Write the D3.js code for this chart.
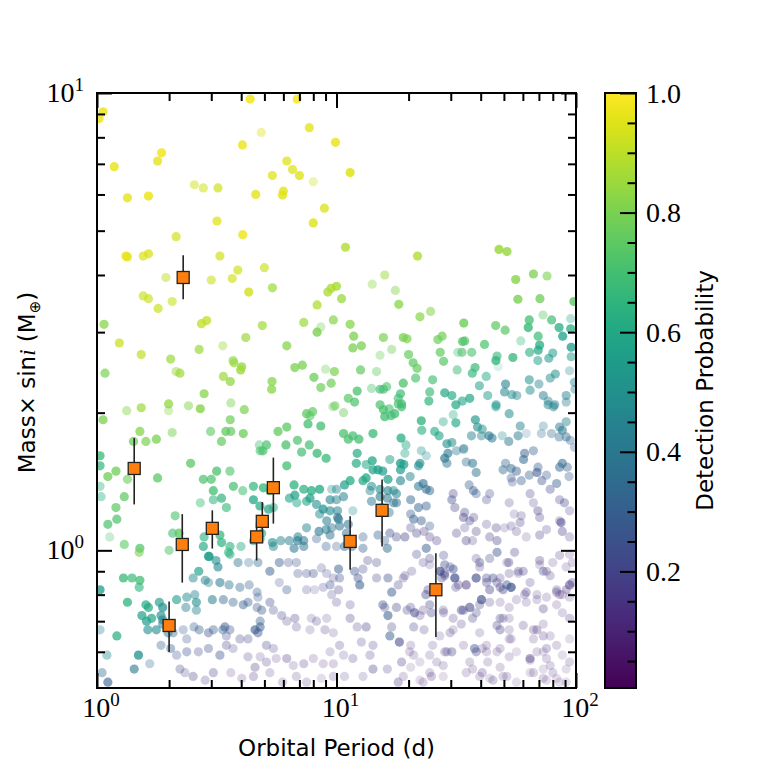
<!DOCTYPE html>
<html><head><meta charset="utf-8">
<script src="https://cdn.jsdelivr.net/npm/d3@7"></script>
<style>body{margin:0;background:#fff}</style>
</head><body>
<svg id="c" width="773" height="773"></svg>
<script>
// ---------------- data ----------------
const periodRange = [1, 100];
const massRange = [0.5, 10];
const probRange = [0.005, 1.0];
const xMajor = [1, 10, 100];
const xMajorExp = ["0", "1", "2"];
const xMinor = [2,3,4,5,6,7,8,9,20,30,40,50,60,70,80,90];
const yMajor = [1, 10];
const yMajorExp = ["0", "1"];
const yMinor = [0.6,0.7,0.8,0.9,2,3,4,5,6,7,8,9];
const cbMajor = [0.2, 0.4, 0.6, 0.8, 1.0];
const cbLabels = ["0.2", "0.4", "0.6", "0.8", "1.0"];
const cbMinor = [0.05,0.1,0.15,0.25,0.3,0.35,0.45,0.5,0.55,0.65,0.7,0.75,0.85,0.9,0.95];

// simulated planets: [period (d), mass (M_earth), detection probability, opacity]
const samples = [
[1.06,9.1,.97,.85],[1.02,8.8,.97,.85],[1.18,6.9,.96,.8],[1.86,7.4,.98,.85],[1.79,7.1,.96,.8],[1.34,5.9,.96,.8],[1.64,5.95,.97,.85],[2.55,6.3,.93,.5],[2.78,6.2,.93,.55],[3.2,6.2,.93,.7],[4.36,9.7,.98,.85],[6.85,9.7,.98,.8],[4.85,8.2,.95,.4],[4.05,7.7,.97,.8],[7.7,8.4,.96,.8],[9.9,7.8,.97,.85],[6.2,7.1,.95,.75],[6.55,6.8,.95,.75],[7.0,6.6,.95,.8],[5.4,6.6,.95,.75],[8.0,6.4,.92,.35],[4.6,6.0,.96,.8],[6.0,6.1,.96,.8],[5.95,5.98,.95,.8],[8.9,5.6,.94,.75],[8.0,5.2,.95,.8],[3.17,5.25,.95,.75],[2.14,4.85,.93,.7],[4.06,4.9,.97,.8],[3.26,4.4,.93,.7],[1.32,4.4,.97,.8],[1.34,4.38,.96,.8],[1.56,4.4,.94,.7],[1.64,4.45,.94,.75],[1.94,3.95,.9,.5],[3.0,3.9,.92,.6],[3.67,3.93,.93,.65],[3.87,4.1,.93,.7],[5.0,4.15,.92,.65],[4.3,3.67,.93,.8],[5.4,3.75,.85,.7],[1.56,3.6,.92,.65],[1.64,3.55,.92,.65],[1.8,3.38,.92,.7],[2.06,3.5,.92,.6],[1.07,3.12,.82,.75],[1.24,2.84,.92,.75],[1.53,2.68,.9,.7],[2.03,2.62,.85,.7],[2.73,3.13,.9,.75],[2.87,3.18,.9,.75],[2.67,2.75,.85,.7],[3.35,2.8,.85,.4],[4.18,2.92,.85,.7],[4.9,3.1,.86,.7],[6.2,2.8,.82,.75],[7.3,3.15,.85,.7],[8.3,3.44,.88,.75],[8.3,3.0,.8,.8],[8.6,3.08,.8,.35],[9.7,3.19,.82,.7],[9.2,3.67,.87,.75],[9.5,3.74,.88,.8],[10.0,3.78,.87,.8],[10.5,3.55,.85,.75],[3.7,2.6,.82,.6],
[11.4,6.7,.95,.85],[10.9,4.6,.88,.8],[21.8,4.4,.88,.8],[47.7,4.55,.85,.85],[51.5,4.5,.84,.8],[15.9,4.0,.85,.5],[14.1,3.82,.83,.4],[17.6,3.7,.82,.45],[18.2,3.45,.82,.75],[11.4,3.12,.82,.75],[11.8,2.94,.8,.75],[11.7,2.77,.8,.75],[12.7,2.8,.8,.75],[15.7,2.92,.8,.7],[15.2,2.67,.78,.35],[17.0,2.75,.78,.4],[19.0,2.92,.8,.75],[19.7,2.9,.8,.7],[20.0,2.68,.77,.7],[20.9,2.57,.75,.7],[21.7,2.5,.76,.7],[22.3,3.24,.82,.7],[24.7,3.33,.82,.55],[26.5,2.89,.78,.7],[27.6,2.94,.78,.7],[27.1,2.71,.76,.7],[28.0,2.59,.74,.7],[34.0,3.14,.78,.8],[33.6,2.86,.73,.75],[34.3,2.87,.73,.7],[32.1,2.71,.7,.35],[33.4,2.71,.72,.6],[36.7,2.71,.72,.6],[41.5,2.82,.72,.7],[46.2,3.1,.75,.7],[50.6,3.03,.74,.7],[56,3.91,.82,.8],[57.2,3.54,.8,.8],[66.4,4.02,.8,.75],[75.7,3.98,.8,.6],[70.7,3.55,.78,.75],[72.8,3.27,.75,.4],[63.8,3.19,.7,.75],[63.2,3.07,.68,.8],[79.1,3.19,.7,.7],[85,3.07,.62,.75],[88,2.94,.58,.75],[69.5,2.94,.68,.7],[70.5,2.81,.62,.75],[69.5,2.74,.6,.7],[64,2.71,.62,.6],[58.8,2.87,.68,.35],[54.5,2.64,.66,.75],[46.3,2.6,.65,.75],[46.8,2.66,.66,.6],[47.3,2.52,.6,.15],[69.3,2.6,.55,.5],[77,2.63,.52,.55],[80,2.7,.55,.55],[98,3.5,.75,.8],[95,3.21,.55,.3],[95,3.05,.62,.75],[95.5,2.78,.55,.75],[95.5,2.65,.55,.5],[94,2.47,.45,.3],[9.8,2.46,.8,.7],[9.5,2.32,.78,.7],[12.6,2.48,.76,.7],[14.7,2.46,.75,.4],[12.2,2.23,.72,.75],[11.2,2.15,.74,.7],[11.9,2.11,.72,.7],[14.0,2.26,.72,.4],[15.2,2.25,.7,.65],[15.7,2.25,.7,.65],[16.2,2.28,.72,.6],[19.0,2.32,.72,.75],[18.5,2.2,.7,.7],[18.1,2.15,.68,.6],[18.7,2.09,.68,.7],[21.4,2.38,.72,.65],[25.2,2.36,.7,.65],[24.5,2.22,.68,.65],[24.3,2.12,.66,.7],[28.3,2.21,.6,.7],[30.3,2.18,.6,.65],[31.5,2.08,.6,.7],[31.9,2.48,.68,.5],[36.9,2.44,.65,.65],[37.9,2.51,.68,.7],[36,2.15,.6,.7],[33.5,2.12,.58,.6],[39.5,2.29,.58,.55],[42.2,2.4,.6,.5],[42.8,2.18,.55,.5],[46.4,2.08,.5,.55],[50.8,2.31,.45,.6],[50.3,2.22,.45,.55],[54,2.19,.48,.5],[56.6,2.18,.45,.45],[63.8,2.36,.5,.55],[64.3,2.24,.48,.5],[70,2.31,.45,.45],[73,2.18,.42,.5],[76.5,2.12,.45,.45],[81.5,2.08,.42,.5],[78,2.38,.5,.5],[82,2.43,.5,.55],[91,2.18,.45,.5],[91,2.11,.42,.4],[98.5,2.33,.45,.45],[99,2.25,.42,.4],
[1.08,2.44,.8,.7],[2.14,2.46,.85,.5],[2.22,2.44,.85,.7],[3.73,2.57,.85,.7],[4.02,2.52,.84,.75],[3.98,2.48,.86,.8],[3.37,2.4,.85,.7],[3.6,2.34,.84,.75],[5.38,2.34,.82,.75],[5.36,2.25,.82,.75],[6.7,2.51,.8,.75],[7.2,2.54,.8,.75],[8.05,2.39,.78,.75],[8.6,2.27,.78,.7],[9.0,2.49,.78,.35],[2.8,2.2,.82,.75],[1.33,2.02,.82,.45],[1.53,2.05,.85,.7],[1.99,2.09,.84,.75],[1.99,2.02,.82,.35],[2.41,2.07,.82,.5],[2.7,2.04,.82,.8],[3.62,2.1,.8,.45],[4.12,2.03,.8,.7],[3.6,1.93,.78,.7],[7.5,1.99,.76,.75],[7.95,2.01,.76,.7],[9.65,2.06,.76,.35],[1.06,1.93,.8,.75],
[7.75,1.97,.74,.6],[7.6,1.89,.7,.75],[8.6,1.87,.7,.75],[1.51,1.82,.82,.75],[2.06,1.81,.8,.5],[1.77,1.75,.8,.75],[1.6,1.73,.8,.7],[1.42,1.73,.78,.75],[2.98,1.82,.75,.6],[3.45,1.82,.76,.75],[3.62,1.82,.76,.7],[4.08,1.8,.78,.75],[5.7,1.82,.76,.75],[6.2,1.86,.75,.75],[3.31,1.73,.76,.7],[4.76,1.7,.7,.4],[5.1,1.7,.72,.7],[4.93,1.65,.72,.7],[4.8,1.65,.72,.6],[6.15,1.7,.72,.75],[6.87,1.74,.72,.7],[7.15,1.64,.7,.7],[7.7,1.7,.7,.7],[8.3,1.63,.68,.75],[9.05,1.59,.68,.75],[1.03,1.61,.68,.75],[1.03,1.53,.66,.7],[2.46,1.55,.75,.75],[1.11,1.45,.78,.75],[1.2,1.49,.78,.75],[1.34,1.43,.78,.6],[1.79,1.44,.75,.75],[2.78,1.43,.72,.7],[3.0,1.43,.72,.7],[3.16,1.49,.72,.75],[3.59,1.49,.72,.6],[3.71,1.38,.7,.7],[4.06,1.35,.7,.55],[4.5,1.38,.66,.7],[4.95,1.37,.66,.75],[5.28,1.35,.68,.7],[6.2,1.53,.7,.75],[6.65,1.39,.65,.75],[7.3,1.36,.63,.7],[7.86,1.35,.62,.75],[8.5,1.36,.6,.75],[9.55,1.36,.55,.35],[1.03,1.38,.65,.4],[1.04,1.31,.62,.4],[1.3,1.31,.75,.7],[1.2,1.24,.75,.7],[1.21,1.17,.72,.7],[3.06,1.35,.7,.75],[3.31,1.3,.66,.7],[3.06,1.29,.65,.55],[2.7,1.27,.7,.45],[3.47,1.24,.66,.6],[4.5,1.29,.6,.75],[4.79,1.25,.6,.7],[5.2,1.23,.58,.7],[5.45,1.24,.62,.5],[6.36,1.3,.58,.6],[6.7,1.32,.55,.7],[6.83,1.27,.6,.5],[7.5,1.28,.6,.6],[7.75,1.3,.55,.7],[8.25,1.26,.5,.6],[8.8,1.23,.5,.7],[9.4,1.22,.48,.6],[10.1,1.22,.45,.55],[8.5,1.2,.48,.5],[1.11,1.14,.72,.7],[1.13,1.07,.72,.3],[1.3,1.03,.75,.6],[1.51,1.01,.72,.7],[1.5,0.99,.8,.6],[2.12,1.19,.72,.6],[2.07,1.09,.7,.6],[2.0,1.0,.72,.5],[2.2,1.09,.75,.75],[2.78,1.02,.6,.65],[2.8,1.07,.62,.6],[2.92,0.97,.58,.7],[3.26,1.08,.65,.7],[3.31,1.04,.65,.7],[3.59,1.02,.65,.6],[3.54,0.99,.66,.55],[3.59,0.98,.62,.55],[3.99,1.02,.62,.45],[4.5,1.05,.55,.5],[4.8,1.06,.58,.6],[4.87,1.09,.6,.6],[5.4,1.04,.5,.6],[5.45,1.02,.45,.5],[5.85,1.05,.45,.5],[6.35,1.05,.42,.5],[6.65,1.01,.38,.55],[6.88,1.05,.4,.6],[7.3,1.02,.38,.5],[6.9,1.07,.45,.55],[7.3,1.05,.4,.55],[8.45,1.1,.4,.6],[9.05,1.11,.42,.55],[9.4,1.08,.38,.5],[7.5,1.12,.45,.5],[9.1,1.16,.42,.55],[10.1,1.18,.38,.55],[8.25,1.06,.3,.35],[9.05,1.02,.3,.35],[10,1.02,.3,.3],[5.77,0.94,.3,.45],[4.7,0.94,.35,.4],[5.27,0.9,.3,.5],[6.3,0.94,.25,.3],[6.8,0.94,.25,.3],[6.9,0.89,.25,.3],[7.5,0.89,.22,.3],[8.0,0.89,.25,.35],[8.65,0.915,.2,.25],[9.1,0.89,.2,.25],[9.7,0.87,.18,.25],[3.88,0.94,.4,.45],[4.3,0.94,.35,.3],[2.94,0.97,.55,.7],[3.14,0.95,.5,.6],[3.2,0.92,.45,.6],[2.52,0.87,.5,.5],[2.66,0.9,.55,.65],[2.83,0.86,.45,.5],[2.92,0.85,.45,.4],[3.26,0.85,.42,.55],[3.56,0.84,.4,.45],[3.95,0.83,.35,.4],[4.32,0.84,.3,.35],[4.66,0.81,.3,.35],[4.7,0.79,.3,.3],[5.77,0.85,.25,.25],[6.2,0.82,.3,.35],[7.5,0.82,.2,.25],[8.1,0.82,.2,.2],[8.8,0.83,.2,.25],[9.55,0.8,.2,.25],[10.2,0.82,.18,.3],[1.03,0.82,.55,.75],[1.29,0.87,.68,.75],[1.4,0.87,.68,.7],[1.51,0.86,.7,.75],[1.5,0.83,.65,.6],[1.34,0.77,.65,.75],[1.6,0.76,.62,.7],[1.64,0.75,.6,.7],[1.54,0.72,.58,.7],[1.61,0.7,.55,.7],[1.69,0.71,.6,.7],[1.82,0.77,.55,.65],[1.88,0.75,.5,.7],[1.85,0.72,.5,.65],[1.88,0.705,.45,.6],[2.15,0.78,.55,.6],[2.37,0.79,.48,.5],[2.56,0.8,.45,.45],[2.6,0.77,.5,.6],[2.35,0.75,.42,.45],[2.6,0.74,.45,.45],[3.03,0.78,.45,.55],[3.37,0.78,.32,.45],[3.7,0.77,.3,.4],[4.08,0.76,.3,.45],[4.27,0.77,.28,.4],[4.66,0.75,.25,.35],[4.87,0.74,.28,.4],[4.8,0.7,.3,.4],[5.27,0.77,.22,.35],[5.45,0.74,.22,.3],[5.9,0.72,.2,.3],[6.2,0.7,.15,.25],[6.7,0.71,.18,.3],[6.8,0.68,.18,.25],[7.85,0.71,.15,.2],[8.25,0.7,.15,.25],[9.1,0.71,.15,.2],[7.75,0.67,.15,.2],[8.95,0.67,.15,.25],[9.7,0.66,.15,.2],[1.03,0.67,.45,.35],[1.21,0.65,.62,.7],[1.63,0.67,.5,.6],[1.77,0.67,.48,.6],[1.88,0.69,.42,.55],[1.98,0.66,.4,.5],[2.08,0.66,.35,.4],[2.29,0.67,.3,.3],[2.54,0.68,.3,.35],[2.67,0.67,.3,.4],[2.37,0.64,.3,.3],[2.92,0.66,.25,.4],[3.06,0.67,.3,.4],[3.35,0.67,.3,.4],[3.42,0.68,.3,.5],[3.59,0.67,.25,.35],[3.47,0.65,.25,.3],[4.57,0.67,.3,.6],[4.8,0.68,.3,.5],[4.7,0.66,.25,.45],[3.95,0.64,.2,.3],[4.27,0.64,.2,.3],[5.1,0.62,.2,.3],[5.45,0.61,.18,.25],[1.1,0.59,.5,.4],[1.49,0.59,.5,.75],[1.85,0.62,.3,.35],[2.03,0.61,.3,.4],[2.15,0.59,.25,.3],[2.37,0.6,.25,.35],[2.65,0.6,.2,.3],[2.92,0.61,.25,.35],[3.26,0.59,.25,.4],[3.47,0.62,.2,.3],[3.7,0.61,.2,.25],[4.27,0.585,.15,.25],[4.57,0.555,.15,.3],[4.8,0.585,.12,.2],[5.1,0.57,.15,.25],[5.6,0.58,.12,.2],[6.2,0.58,.15,.3],[6.6,0.56,.15,.2],[7.3,0.565,.12,.25],[8.0,0.58,.12,.2],[8.8,0.565,.12,.2],[9.7,0.565,.12,.2],[1.43,0.55,.4,.6],[1.66,0.565,.35,.3],[1.11,0.515,.3,.6],[1.05,0.54,.35,.4],[2.22,0.55,.2,.3],[2.33,0.54,.2,.25],[2.52,0.53,.15,.3],[2.83,0.52,.15,.25],[3.06,0.54,.18,.3],[3.62,0.54,.12,.2],[4.02,0.525,.12,.2],[4.5,0.53,.12,.25],[5.27,0.54,.1,.2],[5.95,0.515,.1,.2],[6.8,0.53,.1,.2],[7.5,0.515,.1,.2],[8.65,0.525,.1,.15],[9.7,0.53,.1,.2],
[9.85,2.07,.78,.6],[10.7,2.0,.78,.45],[15.2,2.08,.72,.7],[15.7,2.03,.72,.75],[16.6,2.04,.7,.6],[17.5,1.99,.7,.75],[18.1,2.09,.72,.7],[18.7,2.06,.7,.7],[15.9,1.96,.7,.75],[16.9,1.97,.7,.7],[46.3,2.06,.55,.5],[52.6,1.99,.5,.55],[76.5,2.08,.45,.5],[80.5,2.06,.45,.5],[10.7,1.8,.72,.75],[11.2,1.75,.72,.75],[11.7,1.78,.7,.7],[12.4,1.75,.7,.75],[14.2,1.8,.68,.75],[18.6,1.76,.62,.75],[19.5,1.7,.6,.45],[19.3,1.63,.6,.4],[22.6,1.92,.65,.75],[22.7,1.83,.62,.6],[25.7,1.82,.6,.6],[26.8,1.78,.58,.6],[27.9,1.91,.6,.4],[30.7,1.98,.62,.35],[31.5,1.9,.6,.65],[28.9,1.71,.5,.6],[30.3,1.72,.5,.55],[33.9,1.66,.5,.3],[38,1.93,.52,.65],[38.8,1.86,.5,.6],[40.6,1.84,.5,.5],[36.6,1.78,.45,.5],[40.3,1.78,.45,.45],[43.3,1.78,.42,.6],[44.6,1.76,.4,.55],[49.2,1.78,.45,.3],[52.4,1.73,.4,.5],[58.5,1.87,.45,.5],[57.3,1.78,.42,.5],[62,1.8,.35,.2],[73,1.87,.4,.3],[71.7,1.8,.38,.3],[85.4,1.86,.4,.5],[87.7,1.83,.4,.55],[91,1.91,.42,.45],[79,1.8,.35,.35],[85,1.77,.35,.4],[91,1.77,.38,.45],[94.6,1.74,.3,.35],[98.5,1.68,.3,.3],[12.2,1.63,.62,.7],[12.1,1.55,.62,.7],[13.3,1.54,.6,.55],[14.1,1.57,.6,.75],[14.2,1.5,.58,.7],[14.9,1.5,.58,.75],[15.6,1.49,.55,.7],[16.7,1.58,.55,.5],[16.4,1.43,.55,.7],[17.3,1.35,.5,.5],[18.5,1.55,.55,.75],[18.5,1.5,.55,.7],[19.1,1.54,.55,.7],[20.3,1.45,.45,.5],[22,1.53,.5,.6],[22.3,1.55,.48,.6],[22.6,1.65,.5,.35],[23.7,1.61,.5,.3],[18.5,1.42,.45,.6],[17.8,1.33,.45,.55],[16.4,1.35,.45,.6],[17.3,1.27,.4,.5],[12.9,1.42,.6,.7],[13.3,1.44,.6,.75],[14,1.38,.5,.55],[13.8,1.35,.45,.45],[15.2,1.36,.5,.6],[11.4,1.42,.62,.75],[10.8,1.39,.55,.7],[10,1.36,.45,.45],[9.4,1.29,.45,.6],[10,1.29,.45,.5],[10.7,1.31,.45,.55],[11.7,1.22,.5,.3],[10.2,1.17,.4,.6],[10.3,1.13,.4,.55],[11.2,1.14,.38,.55],[9.55,1.12,.38,.45],[11,1.09,.35,.5],[12.9,1.07,.3,.35],[14.9,1.08,.3,.4],[14,1.28,.4,.5],[15.2,1.31,.42,.6],[16.3,1.3,.4,.55],[15.4,1.24,.42,.4],[16.6,1.21,.4,.45],[17.8,1.27,.38,.5],[20.4,1.29,.35,.5],[22,1.38,.4,.55],[23.7,1.36,.35,.55],[23,1.4,.35,.6],[24.5,1.35,.35,.5],[20.4,1.2,.3,.4],[21,1.17,.32,.5],[22,1.24,.32,.5],[23.7,1.25,.3,.45],[22.6,1.16,.3,.45],[24.5,1.13,.3,.35],[28.3,1.59,.38,.65],[29.2,1.63,.4,.6],[28.9,1.55,.4,.5],[31.7,1.65,.4,.4],[34,1.67,.38,.45],[34.8,1.56,.35,.4],[37,1.55,.4,.55],[38.3,1.48,.38,.5],[30.7,1.33,.2,.35],[30.3,1.29,.22,.4],[31.2,1.24,.2,.35],[34.3,1.21,.2,.35],[33.9,1.18,.2,.4],[36,1.16,.2,.35],[37.4,1.18,.18,.3],[35.8,1.39,.3,.4],[37.3,1.35,.3,.45],[38.3,1.33,.28,.35],[43.6,1.33,.2,.3],[42.3,1.29,.2,.3],[49.6,1.5,.35,.45],[50.8,1.55,.32,.4],[53.6,1.51,.35,.5],[56.4,1.49,.3,.45],[60.4,1.58,.35,.55],[61,1.63,.3,.5],[66.4,1.65,.3,.4],[53.6,1.44,.28,.35],[54.2,1.41,.25,.3],[59.1,1.42,.3,.4],[63.8,1.46,.3,.4],[68.7,1.48,.25,.55],[72,1.42,.25,.4],[69.4,1.52,.3,.4],[75.3,1.46,.28,.35],[78,1.36,.2,.35],[83,1.4,.3,.45],[85.4,1.52,.32,.5],[87.7,1.55,.35,.55],[92,1.52,.3,.4],[93.5,1.45,.28,.35],[85.4,1.29,.18,.3],[89.5,1.27,.2,.35],[94,1.22,.15,.25],[86.6,1.15,.2,.5],[64.3,1.33,.2,.3],[66.4,1.27,.18,.25],[69.3,1.22,.18,.35],[70.5,1.18,.18,.3],[52.6,1.27,.15,.25],[55.2,1.2,.15,.2],[53.6,1.13,.15,.25],[58.4,1.15,.18,.3],[59.1,1.19,.15,.25],[42.3,1.14,.15,.25],[46.4,1.12,.15,.3],[50.3,1.12,.15,.2],[43.6,1.07,.15,.3],[46.8,1.05,.18,.35],[56.4,1.1,.15,.25],[62,1.07,.15,.2],[70.5,1.08,.18,.3],[75.3,1.11,.15,.25],[85.4,1.16,.15,.25],[87.7,1.1,.18,.35],[94,1.07,.15,.25],[31.7,1.09,.15,.3],[34.3,1.12,.15,.25],[34.8,1.05,.18,.35],[38.3,1.1,.15,.3],[37,1.05,.15,.25],[20.4,1.12,.2,.3],[21.6,1.09,.2,.35],[23.2,1.1,.15,.3],[24.5,1.07,.15,.3],[26.2,1.05,.15,.3],[16.7,1.09,.25,.4],[15.9,1.05,.3,.35],[17.8,1.07,.2,.35],[19.3,1.07,.2,.4],
[10.8,1.02,.35,.5],[11.6,1.02,.35,.5],[12.9,1.01,.3,.4],[16.3,1.01,.35,.5],[10.2,0.91,.3,.5],[9.4,0.84,.25,.35],[10.3,0.87,.25,.35],[11.9,0.9,.25,.4],[12.5,0.84,.3,.55],[12.3,0.87,.25,.4],[12.9,0.91,.2,.3],[13.5,0.95,.2,.3],[14.7,0.94,.2,.3],[14.7,0.87,.2,.3],[16.4,0.87,.25,.4],[17,0.81,.3,.5],[18.1,0.84,.2,.3],[19,0.87,.15,.25],[20.6,0.9,.15,.25],[15.6,0.76,.25,.4],[16.4,0.72,.3,.55],[15.9,0.75,.2,.3],[17.8,0.75,.2,.35],[17,0.68,.2,.3],[16.7,0.65,.3,.5],[18.3,0.63,.25,.4],[14.2,0.62,.15,.25],[13.8,0.59,.15,.25],[12.7,0.63,.15,.25],[11.4,0.76,.15,.25],[10,0.77,.15,.25],[11.4,0.71,.18,.3],[12.2,0.68,.15,.25],[13.3,0.68,.2,.35],[10.3,0.62,.15,.25],[10.7,0.59,.15,.2],[9.4,0.6,.15,.2],[11.7,0.58,.15,.25],[10.8,0.53,.15,.2],[12.9,0.53,.15,.2],[14.2,0.55,.2,.35],[16.3,0.55,.15,.25],[18.1,0.515,.15,.3],[21.6,0.98,.2,.3],[23.7,1.01,.3,.5],[24.5,0.96,.2,.3],[28,0.975,.2,.3],[28.3,0.93,.25,.4],[27.1,0.9,.25,.45],[28.3,0.88,.2,.35],[30.7,0.91,.25,.45],[31.2,0.87,.2,.4],[31.5,0.83,.2,.3],[34.8,0.84,.15,.3],[20.4,0.75,.2,.3],[21.2,0.73,.2,.3],[22.3,0.72,.15,.25],[24.5,0.76,.2,.35],[24.9,0.73,.2,.35],[28,0.73,.15,.25],[27,0.65,.15,.2],[29.8,0.66,.15,.25],[24.5,0.59,.15,.2],[26.2,0.57,.12,.2],[28.9,0.6,.15,.25],[33.2,0.74,.2,.4],[36,0.75,.2,.35],[37,0.71,.2,.3],[40.3,0.78,.2,.35],[43.6,0.77,.15,.25],[38.3,0.87,.25,.45],[42.3,0.87,.2,.35],[45,0.87,.25,.4],[48.2,0.83,.2,.35],[51.4,0.84,.25,.45],[53.6,0.83,.25,.45],[38.3,0.96,.15,.25],[39.6,0.94,.2,.35],[43.6,0.96,.2,.3],[46.8,0.99,.25,.45],[52.4,0.94,.2,.35],[55.4,0.99,.15,.3],[57.4,0.9,.2,.3],[60.2,0.9,.15,.3],[64.3,0.85,.15,.25],[62,0.81,.15,.3],[70.5,0.95,.15,.3],[73,0.9,.2,.35],[78,0.88,.15,.25],[83,0.81,.15,.3],[85.4,0.8,.12,.25],[91,0.82,.15,.3],[94,0.84,.15,.25],[96.5,0.85,.15,.3],[85.4,0.975,.15,.25],[94,0.98,.12,.2],[96.5,0.94,.12,.2],[49.6,0.71,.15,.25],[46.8,0.685,.15,.3],[52.6,0.67,.12,.2],[60.2,0.685,.15,.25],[66.4,0.67,.12,.25],[73,0.69,.12,.2],[78,0.65,.15,.2],[33.9,0.62,.12,.2],[38.3,0.6,.18,.35],[40.6,0.61,.12,.2],[46.8,0.6,.12,.2],[52.6,0.585,.12,.2],[56.4,0.6,.1,.15],[64.3,0.58,.12,.2],[73,0.6,.1,.15],[78,0.56,.12,.2],[87.7,0.59,.1,.15],[94,0.57,.12,.2],[34.8,0.54,.12,.2],[40.6,0.54,.12,.25],[43.6,0.525,.1,.15],[49.6,0.53,.12,.2],[56.4,0.515,.1,.15],[64.3,0.54,.1,.15],[73,0.525,.12,.2],[83,0.525,.1,.15],[91,0.515,.1,.15],[20.4,0.62,.12,.2],[21,0.59,.12,.2],[22.3,0.57,.1,.15],[24.5,0.54,.12,.2],[23,0.515,.1,.2],[68.7,0.78,.12,.2],[73,0.745,.15,.3],[83,0.76,.12,.2],[87.7,0.73,.12,.2],[94,0.71,.12,.25],
[19.3,0.88,.15,.25],[23,0.94,.15,.25],[24.5,0.93,.15,.2],[27,0.9,.2,.35],[28.3,0.89,.2,.4],[27.5,0.87,.2,.35],[29.8,0.92,.2,.3],[31.2,0.87,.25,.45],[32.3,0.84,.15,.3],[23.6,0.8,.2,.4],[24.1,0.82,.2,.35],[34.8,0.84,.15,.25],[38.3,0.87,.2,.3],[42.3,0.85,.2,.35],[43.6,0.82,.2,.4],[46.8,0.85,.15,.3],[49.6,0.82,.2,.4],[53.6,0.83,.25,.45],[48.2,0.87,.15,.25],[52.6,0.89,.15,.25],[57.4,0.89,.15,.2],[39.6,0.92,.15,.25],[51.4,0.94,.12,.2],[70.5,0.93,.12,.2],[75.3,0.9,.15,.25],[80,0.94,.12,.2],[91,0.92,.12,.2],[94,0.84,.15,.3],[61,0.8,.15,.25],[62,0.77,.12,.2],[68.7,0.8,.12,.2],[75.3,0.79,.12,.2],[83,0.82,.15,.25],[87.7,0.8,.12,.2],[94,0.79,.12,.2],[40.3,0.78,.25,.45],[39.6,0.76,.2,.3],[48.2,0.77,.12,.2],[52.6,0.75,.12,.2],[56.4,0.78,.12,.2],[19.7,0.74,.2,.3],[21.2,0.73,.2,.3],[23,0.74,.15,.25],[21,0.68,.2,.3],[23.2,0.67,.15,.25],[27.9,0.74,.15,.25],[30.7,0.71,.15,.25],[33.9,0.74,.2,.35],[36,0.75,.2,.3],[38.3,0.73,.2,.3],[33.2,0.69,.15,.25],[30.7,0.67,.15,.2],[48.2,0.71,.2,.3],[52.6,0.71,.12,.2],[48.2,0.67,.2,.35],[52.6,0.64,.12,.2],[39.6,0.66,.12,.2],[42.3,0.62,.12,.2],[37.7,0.61,.25,.45],[42.3,0.6,.12,.2],[48.2,0.61,.12,.2],[53.6,0.64,.12,.2],[68.7,0.67,.15,.3],[73,0.65,.15,.25],[66.4,0.64,.12,.2],[75.3,0.61,.15,.25],[83,0.62,.12,.2],[68.7,0.6,.12,.2],[64.3,0.58,.15,.25],[75.3,0.58,.12,.2],[18.3,0.63,.15,.25],[18.7,0.57,.15,.3],[20.2,0.6,.12,.2],[25.2,0.62,.12,.2],[28.3,0.6,.15,.25],[30.3,0.6,.2,.35],[27.9,0.56,.12,.2],[36,0.57,.12,.2],[37,0.55,.12,.2],[42.8,0.57,.12,.2],[48.2,0.555,.12,.2],[51.4,0.53,.12,.2],[45,0.52,.15,.25],[39.6,0.53,.12,.2],[64.3,0.575,.12,.2],[66.4,0.54,.12,.2],[73,0.55,.1,.15],[80,0.54,.12,.2],[91,0.55,.1,.15],[75.3,0.52,.1,.15],[85.4,0.515,.1,.15],[94,0.64,.1,.15],[24.9,0.53,.12,.25],[27.9,0.53,.1,.15],[22.3,0.52,.1,.15],[19,0.53,.12,.2],[20.4,0.555,.1,.15]
];

// detected planets: [period (d), mass, minus error, plus error]
const planets = [
[1.43, 1.51, 0.25, 0.25],
[2.29, 3.95, 0.41, 0.47],
[2.27, 1.03, 0.18, 0.17],
[2.00, 0.685, 0.086, 0.088],
[3.03, 1.117, 0.108, 0.106],
[4.64, 1.07, 0.12, 0.08],
[4.90, 1.157, 0.088, 0.118],
[5.45, 1.371, 0.227, 0.224],
[11.4, 1.046, 0.139, 0.141],
[15.5, 1.223, 0.203, 0.205],
[26.0, 0.820, 0.174, 0.166]
];

// ---------------- drawing ----------------
const m = {l: 97, r: 576, t: 93, b: 688};
const cbBox = {l: 605, r: 636};
const serif = "'Liberation Serif', 'DejaVu Serif', serif";
const sans = "'DejaVu Sans', sans-serif";

const x = d3.scaleLog().domain(periodRange).range([m.l, m.r]);
const y = d3.scaleLog().domain(massRange).range([m.b, m.t]);
const cy = d3.scaleLinear().domain(probRange).range([m.b, m.t]);
const norm = d3.scaleLinear().domain(probRange).range([0, 1]).clamp(true);
const color = p => d3.interpolateViridis(norm(p));

const svg = d3.select("#c");
const defs = svg.append("defs");
defs.append("clipPath").attr("id", "clip").append("rect")
  .attr("x", m.l).attr("y", m.t).attr("width", m.r - m.l).attr("height", m.b - m.t);

svg.append("g").attr("clip-path", "url(#clip)")
  .selectAll("circle").data(samples).join("circle")
  .attr("cx", d => x(d[0])).attr("cy", d => y(d[1])).attr("r", 4.6)
  .attr("fill", d => color(d[2])).attr("fill-opacity", d => d[3]);

const gp = svg.append("g");
gp.selectAll("line").data(planets).join("line")
  .attr("x1", d => x(d[0])).attr("x2", d => x(d[0]))
  .attr("y1", d => y(d[1] - d[2])).attr("y2", d => y(d[1] + d[3]))
  .attr("stroke", "#222").attr("stroke-width", 1.6);
gp.selectAll("rect").data(planets).join("rect")
  .attr("x", d => x(d[0]) - 6).attr("y", d => y(d[1]) - 6)
  .attr("width", 12).attr("height", 12)
  .attr("fill", "#ff7f0e").attr("stroke", "#222").attr("stroke-width", 1.3);

function ticks(axisFn, scale, vals, size, tr) {
  const g = svg.append("g").attr("transform", tr)
    .call(axisFn(scale).tickValues(vals).tickSize(size).tickSizeOuter(0).tickFormat(() => ""));
  g.select(".domain").remove();
  g.selectAll(".tick line").attr("stroke", "#000").attr("stroke-width", 2);
  g.selectAll(".tick text").remove();
}
ticks(d3.axisBottom, x, xMajor, -15, `translate(0,${m.b})`);
ticks(d3.axisBottom, x, xMinor, -8, `translate(0,${m.b})`);
ticks(d3.axisTop, x, xMajor, -15, `translate(0,${m.t})`);
ticks(d3.axisTop, x, xMinor, -8, `translate(0,${m.t})`);
ticks(d3.axisLeft, y, yMajor, -15, `translate(${m.l},0)`);
ticks(d3.axisLeft, y, yMinor, -8, `translate(${m.l},0)`);
ticks(d3.axisRight, y, yMajor, -15, `translate(${m.r},0)`);
ticks(d3.axisRight, y, yMinor, -8, `translate(${m.r},0)`);

svg.append("rect").attr("x", m.l).attr("y", m.t)
  .attr("width", m.r - m.l).attr("height", m.b - m.t)
  .attr("fill", "none").attr("stroke", "#000").attr("stroke-width", 2);

// tick labels
const xl = svg.append("g").attr("font-family", serif).attr("font-size", 28).attr("fill", "#000");
xMajor.forEach((v, i) => {
  const t = xl.append("text").attr("x", x(v) + 4).attr("y", m.b + 29).attr("text-anchor", "middle");
  t.append("tspan").text("10");
  t.append("tspan").attr("dy", -11).attr("font-size", 19).text(xMajorExp[i]);
});
yMajor.forEach((v, i) => {
  const t = xl.append("text").attr("x", m.l - 13).attr("y", y(v) + 9).attr("text-anchor", "end");
  t.append("tspan").text("10");
  t.append("tspan").attr("dy", -11).attr("font-size", 19).text(yMajorExp[i]);
});

// axis titles
svg.append("text").attr("x", (m.l + m.r) / 2).attr("y", 756)
  .attr("text-anchor", "middle").attr("font-family", sans).attr("font-size", 23)
  .text("Orbital Period (d)");
const yt = svg.append("text").attr("transform", `translate(35,${(m.t + m.b) / 2 - 8}) rotate(-90)`)
  .attr("text-anchor", "middle").attr("font-family", sans).attr("font-size", 23);
yt.append("tspan").text("Mass× sin");
yt.append("tspan").attr("font-family", serif).attr("font-style", "italic").text("i");
yt.append("tspan").text(" (M");
yt.append("tspan").attr("font-size", 15).attr("dy", 5).text("⊕");
yt.append("tspan").attr("dy", -5).text(")");

// colorbar
const grad = defs.append("linearGradient").attr("id", "vir")
  .attr("x1", 0).attr("y1", 1).attr("x2", 0).attr("y2", 0);
d3.range(0, 1.0001, 0.05).forEach(t => {
  grad.append("stop").attr("offset", t).attr("stop-color", d3.interpolateViridis(t));
});
svg.append("rect").attr("x", cbBox.l).attr("y", m.t)
  .attr("width", cbBox.r - cbBox.l).attr("height", m.b - m.t).attr("fill", "url(#vir)");
ticks(d3.axisRight, cy, cbMajor, -16, `translate(${cbBox.r},0)`);
ticks(d3.axisRight, cy, cbMinor, -8.5, `translate(${cbBox.r},0)`);
svg.append("rect").attr("x", cbBox.l).attr("y", m.t)
  .attr("width", cbBox.r - cbBox.l).attr("height", m.b - m.t)
  .attr("fill", "none").attr("stroke", "#000").attr("stroke-width", 2);
const cl = svg.append("g").attr("font-family", serif).attr("font-size", 28);
cbMajor.forEach((v, i) => {
  cl.append("text").attr("x", cbBox.r + 10).attr("y", cy(v) + 9.5).text(cbLabels[i]);
});
svg.append("text").attr("transform", `translate(713,${(m.t + m.b) / 2}) rotate(-90)`)
  .attr("text-anchor", "middle").attr("font-family", sans).attr("font-size", 23)
  .text("Detection Probability");
</script>
</body></html>
